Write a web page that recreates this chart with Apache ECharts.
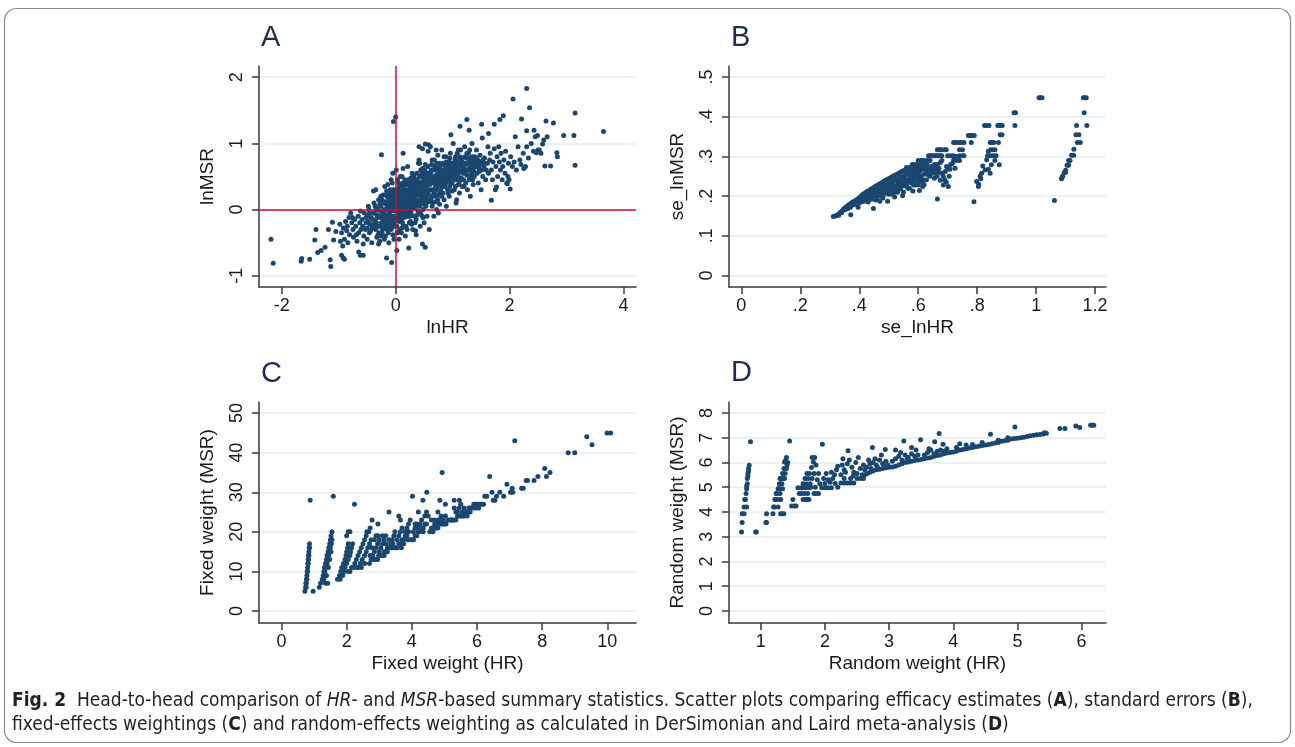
<!DOCTYPE html>
<html>
<head>
<meta charset="utf-8">
<script src="https://cdn.jsdelivr.net/npm/echarts@6/dist/echarts.min.js"></script>
<style>
html, body { margin: 0; padding: 0; background: #fff; }
#charts { width: 1295px; height: 747px; }
</style>
</head>
<body>
<div id="charts"></div>
<script>
// tick labels of each panel
var ticksAx = [-2, 0, 2, 4];
var ticksAy = [-1, 0, 1, 2];
var ticksBx = [0, 0.2, 0.4, 0.6, 0.8, 1, 1.2];
var ticksBy = [0, 0.1, 0.2, 0.3, 0.4, 0.5];
var ticksCx = [0, 2, 4, 6, 8, 10];
var ticksCy = [0, 10, 20, 30, 40, 50];
var ticksDx = [1, 2, 3, 4, 5, 6];
var ticksDy = [0, 1, 2, 3, 4, 5, 6, 7, 8];

// reference lines in panel A (lnHR = 0, lnMSR = 0)
var refLinesA = [0, 0];

// A: lnHR vs lnMSR
var pointsA = [
  [-2.19,-0.45],[-2.15,-0.81],[-1.66,-0.78],[-1.65,-0.74],[-1.51,-0.75],[-1.4,-0.3],[-1.42,-0.46],[-1.37,-0.65],
  [-1.31,-0.62],[-1.24,-0.57],[-1.18,-0.3],[-1.15,-0.76],[-1.14,-0.86],[-1.11,-0.19],[-1.09,-0.46],[-1.05,-0.33],
  [-0.95,-0.69],[-0.92,-0.73],[-0.9,-0.75],[-0.65,-0.64],[-0.62,-0.69],[-0.57,-0.69],[-0.25,0.83],[-0.16,-0.73],
  [-0.07,-0.8],[-0.04,1.33],[0.0,1.4],[0.02,-0.62],[0.23,-0.58],[0.47,-0.52],[0.52,-0.57],[0.13,0.85],
  [0.41,0.95],[0.52,0.99],[0.58,0.98],[0.97,1.13],[1.13,1.26],[1.25,1.36],[1.29,1.2],[1.51,1.29],
  [1.63,1.15],[1.73,1.29],[1.83,1.36],[1.89,1.42],[2.06,1.67],[2.3,1.83],[2.35,1.54],[2.21,1.37],
  [2.3,1.19],[2.43,1.2],[2.64,1.34],[2.77,1.31],[2.49,1.12],[2.66,1.1],[2.95,1.12],[3.13,1.12],
  [3.15,1.46],[3.65,1.18],[3.15,0.67],[2.62,0.66],[2.72,0.66],[2.83,0.86],[2.84,0.8],[2.58,0.99],
  [2.47,0.86],[2.52,0.9],[1.68,0.14],[2.01,0.31],[1.96,0.39],[1.77,0.34],[1.99,0.45],[2.25,0.62],
  [-0.98,-0.22],[-0.95,-0.35],[-0.92,-0.28],[-0.9,-0.45],[-0.88,-0.18],[-0.86,-0.32],[-0.84,-0.5],[-0.82,-0.12],
  [-0.97,-0.48],[-0.93,-0.55],[-0.85,-0.25],[-0.81,-0.38],
  [-0.79,-0.05],[-0.77,-0.2],[-0.75,-0.3],[-0.74,-0.42],[-0.72,-0.15],[-0.7,-0.25],[-0.68,-0.48],[-0.66,-0.1],
  [-0.65,-0.35],[-0.63,-0.2],[-0.62,-0.02],[-0.61,-0.3],[-0.76,-0.12],[-0.69,-0.38],
  [-0.59,-0.15],[-0.58,-0.25],[-0.56,-0.4],[-0.55,-0.05],[-0.53,-0.3],[-0.52,-0.2],[-0.5,-0.45],[-0.49,-0.1],
  [-0.47,0.0],[-0.46,-0.35],[-0.45,-0.22],[-0.43,-0.12],[-0.42,-0.5],[-0.41,-0.28],[-0.57,-0.52],[-0.48,0.05],
  [-0.39,0.28],[-0.38,0.1],[-0.37,-0.05],[-0.36,-0.18],[-0.35,-0.3],[-0.34,0.02],[-0.33,-0.42],[-0.32,-0.12],
  [-0.31,-0.25],[-0.3,0.15],[-0.29,-0.35],[-0.28,-0.48],[-0.27,-0.02],[-0.26,0.05],[-0.25,-0.2],[-0.24,-0.1],
  [-0.23,-0.3],[-0.22,0.22],[-0.21,-0.05],[-0.35,0.3],[-0.3,-0.52],[-0.26,-0.4],[-0.38,-0.22],[-0.33,-0.08],
  [-0.19,0.35],[-0.18,0.12],[-0.17,0.0],[-0.16,-0.12],[-0.15,-0.22],[-0.14,0.05],[-0.13,-0.35],[-0.12,0.25],
  [-0.11,-0.05],[-0.1,-0.28],[-0.09,0.15],[-0.08,0.08],[-0.07,-0.18],[-0.06,0.02],[-0.05,0.55],[-0.04,-0.1],
  [-0.03,-0.45],[-0.02,0.3],[-0.01,0.1],[-0.18,-0.4],[-0.12,-0.5],[-0.08,0.45],[-0.15,0.2],[-0.05,-0.38],
  [-0.02,0.18],[-0.1,0.02],[-0.14,-0.08],[-0.06,-0.25],[-0.17,0.08],[-0.03,-0.02],
  [0.01,0.6],[0.02,-0.02],[0.03,0.2],[0.04,-0.15],[0.05,0.4],[0.06,0.08],[0.07,-0.3],[0.08,0.28],
  [0.09,-0.08],[0.1,0.12],[0.11,0.5],[0.12,-0.2],[0.13,0.02],[0.14,0.35],[0.15,-0.12],[0.16,0.18],
  [0.17,-0.4],[0.18,0.05],[0.19,0.25],[0.03,0.45],[0.06,-0.45],[0.09,0.15],[0.12,-0.05],[0.15,0.3],
  [0.18,-0.25],[0.04,0.1],[0.1,-0.35],[0.14,0.08],[0.2,0.42],[0.05,0.25],[0.02,0.05],[0.08,-0.12],
  [0.16,-0.05],[0.07,0.02],[0.11,0.22],[0.19,0.1],
  [0.21,0.65],[0.22,0.1],[0.23,-0.05],[0.24,0.3],[0.25,0.45],[0.26,-0.18],[0.27,0.2],[0.28,0.02],
  [0.29,0.55],[0.3,-0.3],[0.31,0.15],[0.32,0.35],[0.33,-0.1],[0.34,0.25],[0.35,0.05],[0.36,-0.38],
  [0.37,0.4],[0.38,0.12],[0.39,-0.02],[0.22,0.38],[0.25,0.18],[0.28,-0.22],[0.31,0.48],[0.34,0.08],
  [0.37,0.22],[0.4,0.7],[0.26,0.05],[0.33,0.3],[0.36,-0.15],[0.23,0.25],[0.3,0.1],[0.38,0.32],
  [0.41,0.75],[0.42,0.3],[0.43,0.1],[0.44,-0.05],[0.45,0.5],[0.46,0.2],[0.47,0.62],[0.48,0.0],
  [0.49,0.35],[0.5,-0.2],[0.51,0.15],[0.52,0.42],[0.53,0.05],[0.54,0.55],[0.55,-0.1],[0.56,0.28],
  [0.57,0.88],[0.58,0.12],[0.59,-0.3],[0.44,0.4],[0.48,0.25],[0.52,0.68],[0.56,0.38],[0.43,-0.25],
  [0.5,0.08],[0.55,0.22],[0.47,0.92],[0.46,0.32],[0.53,0.18],[0.58,0.45],
  [0.61,0.95],[0.62,0.45],[0.63,0.2],[0.64,0.05],[0.65,0.6],[0.66,0.3],[0.67,-0.1],[0.68,0.75],
  [0.69,0.4],[0.7,0.12],[0.71,0.52],[0.72,0.0],[0.73,0.35],[0.74,0.82],[0.75,0.22],[0.76,0.58],
  [0.77,0.08],[0.78,0.45],[0.79,0.3],[0.63,0.68],[0.67,0.25],[0.71,0.9],[0.75,-0.05],[0.62,0.15],
  [0.66,0.48],[0.73,0.62],[0.77,0.38],
  [0.81,0.9],[0.82,0.5],[0.83,0.25],[0.84,0.7],[0.85,0.15],[0.86,0.6],[0.87,0.38],[0.88,0.8],
  [0.89,0.05],[0.9,0.55],[0.91,0.3],[0.92,0.72],[0.93,0.45],[0.94,0.2],[0.95,0.62],[0.96,0.85],
  [0.97,0.4],[0.98,0.52],[0.99,0.28],[0.85,0.42],[0.9,0.65],[0.95,0.35],[0.83,0.58],[0.88,0.48],
  [1.01,1.0],[1.02,0.55],[1.03,0.3],[1.04,0.75],[1.05,0.45],[1.06,0.65],[1.07,0.15],[1.08,0.85],
  [1.09,0.5],[1.1,0.38],[1.11,0.7],[1.12,0.25],[1.13,0.6],[1.14,0.9],[1.15,0.48],[1.16,0.78],
  [1.17,0.35],[1.18,0.62],[1.19,0.55],[1.06,0.1],[1.12,0.42],[1.04,0.62],[1.15,0.68],
  [1.21,0.95],[1.22,0.6],[1.23,0.4],[1.24,0.78],[1.25,0.52],[1.26,0.3],[1.27,0.7],[1.28,0.85],
  [1.29,0.45],[1.3,0.62],[1.31,0.2],[1.32,0.75],[1.33,0.55],[1.34,1.0],[1.35,0.65],[1.36,0.38],
  [1.37,0.72],[1.38,0.5],[1.39,0.8],
  [1.41,0.68],[1.42,0.9],[1.43,0.55],[1.44,0.75],[1.45,0.4],[1.46,0.62],[1.48,0.82],[1.5,0.3],
  [1.51,0.7],[1.52,1.08],[1.53,0.5],[1.55,0.65],[1.56,0.78],[1.58,0.45],[1.59,0.6],[1.47,0.72],
  [1.61,0.7],[1.62,0.95],[1.63,0.55],[1.65,0.75],[1.66,0.85],[1.68,0.6],[1.7,0.45],[1.71,0.72],
  [1.73,0.92],[1.75,0.3],[1.76,0.65],[1.78,0.8],[1.79,0.5],
  [1.81,0.95],[1.82,0.72],[1.84,0.6],[1.85,0.85],[1.87,0.45],[1.88,0.65],[1.9,0.75],[1.92,0.55],
  [1.93,0.88],[1.95,0.4],[1.97,0.5],[1.98,0.7],
  [2.02,0.8],[2.05,0.65],[2.08,0.72],[2.1,1.1],[2.12,0.6],[2.15,0.95],[2.18,0.75],[2.2,0.68],
  [2.24,0.85],[2.28,0.65],[2.3,0.95],[2.33,0.78],[2.38,1.0],[2.42,0.88],[2.45,1.1],[2.5,0.9],
  [2.55,0.85],[2.6,1.05],
  [-0.52,-0.12],[-0.5,-0.28],[-0.48,-0.18],[-0.46,-0.05],[-0.44,-0.32],[-0.4,-0.15],[-0.39,-0.05],[-0.37,-0.28],
  [-0.36,0.05],[-0.34,-0.2],[-0.32,0.0],[-0.31,-0.38],[-0.29,-0.1],[-0.27,-0.25],[-0.25,0.1],[-0.24,-0.35],
  [-0.22,-0.15],[-0.2,0.0],[-0.19,-0.25],[-0.18,-0.08],[-0.16,0.1],[-0.15,-0.3],[-0.13,0.0],[-0.12,-0.15],
  [-0.11,0.12],[-0.1,-0.1],[-0.09,-0.2],[-0.08,-0.02],[-0.07,0.2],[-0.06,-0.12],[-0.05,0.05],[-0.04,0.25],
  [-0.03,-0.25],[-0.02,0.0],[-0.01,-0.15],[-0.2,-0.45],[-0.1,0.3],[-0.14,0.38],[-0.26,0.2],[-0.06,0.4],
  [0.01,0.0],[0.02,0.15],[0.03,-0.1],[0.04,0.32],[0.05,-0.05],[0.06,0.2],[0.07,0.1],[0.08,0.0],
  [0.09,0.38],[0.1,-0.15],[0.11,0.05],[0.12,0.28],[0.13,-0.25],[0.14,0.15],[0.15,0.0],[0.16,0.45],
  [0.17,0.1],[0.18,0.2],[0.19,-0.1],[0.2,0.05],[0.21,0.3],[0.22,-0.1],[0.23,0.15],[0.24,0.0],
  [0.25,0.35],[0.26,0.25],[0.27,-0.05],[0.28,0.12],[0.29,0.3],[0.3,0.2],[0.31,0.02],[0.32,0.5],
  [0.33,0.15],[0.34,-0.2],[0.35,0.3],[0.36,0.1],[0.37,0.55],[0.38,-0.08],[0.39,0.25],[0.4,0.15],
  [0.41,0.4],[0.42,0.05],[0.43,0.25],[0.44,0.6],[0.45,0.1],[0.46,0.42],[0.47,0.18],[0.48,-0.12],
  [0.49,0.5],[0.5,0.3],[0.03,-0.35],[0.08,0.5],[0.13,0.62],[0.2,-0.3],[0.27,0.48],[0.35,-0.32],
  [0.42,0.7],[0.47,-0.1],[0.11,-0.28],[0.24,-0.2],
  [0.51,0.6],[0.52,0.2],[0.53,0.35],[0.54,0.1],[0.55,0.45],[0.56,0.65],[0.57,0.25],[0.58,0.55],
  [0.59,0.15],[0.6,0.38],[0.61,0.55],[0.62,0.3],[0.63,0.5],[0.64,0.75],[0.65,0.1],[0.66,0.6],
  [0.67,0.45],[0.68,0.25],[0.69,0.65],[0.7,0.35],[0.71,0.2],[0.72,0.7],[0.73,0.48],[0.74,0.15],
  [0.75,0.55],[0.76,0.4],[0.77,0.7],[0.78,0.25],[0.79,0.6],[0.8,0.45],[0.81,0.2],[0.82,0.68],
  [0.83,0.4],[0.84,0.55],[0.85,0.8],[0.86,0.35],[0.87,0.62],[0.88,0.52],[0.89,0.72],[0.9,0.42],
  [0.91,0.58],[0.92,0.25],[0.93,0.68],[0.94,0.5],[0.95,0.78],[0.96,0.45],[0.97,0.6],[0.98,0.7],
  [0.99,0.4],[1.0,0.58],
  [1.01,0.7],[1.03,0.5],[1.05,0.8],[1.07,0.6],[1.09,0.7],[1.11,0.45],[1.13,0.8],[1.15,0.58],
  [1.17,0.72],[1.19,0.45],[1.21,0.7],[1.23,0.55],[1.25,0.85],[1.27,0.6],[1.29,0.75],[1.31,0.5],
  [1.33,0.68],[1.35,0.8],[1.37,0.58],[1.39,0.65],[1.41,0.78],[1.43,0.65],[1.45,0.7],[1.47,0.58],
  [1.49,0.68],[1.51,0.6],[1.53,0.75],[1.57,0.7],[1.05,0.35],[1.2,0.35],[1.35,0.45],[1.1,0.9],[1.3,0.9],
  [-0.28,0.08],[-0.26,-0.12],[-0.24,0.15],[-0.23,-0.05],[-0.21,0.1],[-0.2,-0.18],[-0.18,0.22],[-0.17,-0.15],
  [-0.16,0.28],[-0.14,-0.2],[-0.13,0.18],[-0.11,-0.22],[-0.1,0.2],[-0.09,0.05],[-0.08,-0.3],[-0.07,0.12],
  [-0.06,0.3],[-0.05,-0.2],[-0.04,0.15],[-0.03,0.08],[-0.02,-0.18],[-0.01,0.22],
  [0.01,0.3],[0.02,-0.25],[0.03,0.05],[0.04,0.2],[0.05,0.12],[0.06,-0.18],[0.07,0.35],[0.08,0.15],
  [0.09,0.05],[0.1,0.28],[0.11,-0.1],[0.12,0.15],[0.13,0.4],[0.14,-0.1],[0.15,0.1],[0.16,0.3],
  [0.17,0.2],[0.18,0.38],[0.19,0.0],[0.2,0.22],[0.21,0.12],[0.22,0.45],[0.23,0.05],[0.24,0.18],
  [0.25,-0.1],[0.26,0.38],[0.27,0.1],[0.28,0.3],[0.29,0.15],[0.3,0.4],[0.31,0.25],[0.32,0.05],
  [0.33,0.42],[0.34,0.18],[0.35,0.45],[0.36,0.22],[0.37,0.05],[0.38,0.45],[0.39,0.12],[0.4,0.35],
  [0.41,0.22],[0.42,0.5],[0.43,0.38],[0.44,0.15],[0.45,0.3],[0.46,0.55],[0.47,0.4],[0.48,0.12],
  [0.49,0.22],[0.5,0.45],
  [0.52,0.3],[0.54,0.4],[0.56,0.5],[0.58,0.3],[0.6,0.5],[0.62,0.6],[0.64,0.4],[0.66,0.2],
  [0.68,0.5],[0.7,0.6],[0.72,0.42],[0.74,0.3],[0.76,0.5],[0.78,0.65],[0.8,0.55],[0.82,0.35],
  [0.84,0.48],[0.86,0.7],[0.88,0.6],[0.9,0.5],[0.92,0.6],[0.94,0.72],[0.96,0.55],[0.98,0.62],
  [1.0,0.48],[1.02,0.68],[1.04,0.55],[1.06,0.75],[1.08,0.62],[1.1,0.55],[1.12,0.68],[1.14,0.75],
  [1.16,0.62],[1.18,0.7],[1.2,0.62],[1.22,0.8],[1.24,0.68],[1.26,0.6],[1.28,0.72],[1.3,0.78],
  [1.32,0.65],[1.34,0.72],[1.36,0.6],[1.38,0.75],[1.4,0.7]
];

// B: se_lnHR vs se_lnMSR
var pointsB = [
  [0.312,0.149],[0.318,0.15],[0.323,0.151],[0.33,0.155],[0.335,0.158],[0.34,0.162],[0.345,0.166],[0.35,0.17],
  [0.355,0.172],[0.36,0.176],[0.365,0.178],[0.37,0.181],[0.375,0.184],[0.38,0.186],[0.385,0.188],[0.39,0.19],
  [0.395,0.193],[0.4,0.196],[0.405,0.2],[0.41,0.203],[0.415,0.206],[0.42,0.208],[0.425,0.211],[0.43,0.213],
  [0.435,0.215],[0.44,0.218],[0.445,0.22],[0.45,0.222],[0.455,0.225],[0.46,0.227],[0.465,0.229],[0.47,0.231],
  [0.475,0.233],[0.48,0.235],[0.485,0.238],[0.49,0.24],[0.495,0.242],[0.5,0.244],[0.505,0.246],[0.51,0.248],
  [0.515,0.25],[0.52,0.252],[0.525,0.254],[0.53,0.256],[0.535,0.258],[0.54,0.26],[0.545,0.262],[0.55,0.264],
  [0.555,0.266],[0.56,0.268],
  [0.36,0.17],[0.37,0.175],[0.38,0.18],[0.39,0.184],[0.4,0.188],[0.41,0.193],[0.42,0.198],[0.43,0.202],
  [0.44,0.206],[0.45,0.21],[0.46,0.214],[0.47,0.218],[0.48,0.222],[0.49,0.226],[0.5,0.23],[0.51,0.234],
  [0.52,0.238],[0.53,0.242],[0.54,0.246],[0.55,0.25],[0.56,0.254],[0.57,0.258],
  [0.42,0.19],[0.43,0.194],[0.44,0.197],[0.45,0.2],[0.46,0.204],[0.47,0.207],[0.48,0.21],[0.49,0.214],
  [0.5,0.218],[0.51,0.221],[0.52,0.225],[0.53,0.228],[0.54,0.232],[0.55,0.236],[0.56,0.24],[0.57,0.243],
  [0.58,0.247],[0.59,0.25],
  [0.46,0.195],[0.48,0.2],[0.5,0.205],[0.52,0.21],[0.54,0.218],[0.56,0.225],[0.58,0.232],[0.6,0.238],
  [0.55,0.21],[0.57,0.22],[0.59,0.228],[0.61,0.235],
  [0.371,0.153],[0.396,0.172],[0.448,0.169],[0.47,0.187],[0.496,0.187],[0.547,0.201],[0.582,0.213],[0.604,0.214],
  [0.665,0.193],[0.43,0.185],[0.455,0.19],[0.52,0.198],
  [0.56,0.272],[0.57,0.272],[0.575,0.272],[0.58,0.272],[0.59,0.272],[0.6,0.272],[0.61,0.272],[0.62,0.272],
  [0.58,0.28],[0.59,0.28],[0.6,0.28],[0.61,0.28],[0.62,0.28],[0.63,0.28],
  [0.6,0.29],[0.61,0.29],[0.615,0.29],[0.62,0.29],[0.63,0.29],[0.64,0.29],[0.68,0.29],[0.72,0.29],
  [0.73,0.29],[0.74,0.29],
  [0.635,0.302],[0.64,0.302],[0.645,0.302],[0.65,0.302],[0.655,0.302],[0.66,0.302],[0.665,0.302],[0.67,0.302],
  [0.675,0.302],[0.68,0.302],[0.7,0.302],[0.71,0.302],[0.72,0.302],[0.74,0.302],[0.75,0.302],[0.755,0.302],
  [0.665,0.317],[0.67,0.317],[0.675,0.317],[0.68,0.317],[0.69,0.317],[0.695,0.317],[0.74,0.317],[0.75,0.317],
  [0.72,0.335],[0.725,0.335],[0.73,0.335],[0.74,0.335],[0.745,0.335],[0.755,0.335],[0.78,0.335],
  [0.77,0.353],[0.775,0.353],[0.78,0.353],[0.785,0.353],[0.79,0.353],
  [0.825,0.378],[0.83,0.378],[0.84,0.378],[0.87,0.378],[0.875,0.378],[0.88,0.378],[0.885,0.378],[0.928,0.378],
  [0.925,0.41],[0.93,0.41],
  [1.01,0.448],[1.015,0.448],[1.02,0.448],[1.16,0.448],[1.165,0.448],[1.17,0.448],
  [0.6,0.255],[0.605,0.262],[0.61,0.245],[0.615,0.224],[0.62,0.229],[0.625,0.258],[0.628,0.241],[0.63,0.265],
  [0.634,0.254],[0.64,0.27],[0.645,0.26],[0.651,0.258],[0.655,0.245],[0.66,0.27],[0.664,0.25],[0.67,0.26],
  [0.675,0.24],[0.68,0.258],[0.685,0.25],[0.69,0.241],[0.692,0.262],[0.696,0.275],[0.702,0.224],[0.705,0.25],
  [0.708,0.268],[0.71,0.28],[0.716,0.282],[0.721,0.292],[0.725,0.27],[0.73,0.3],[0.736,0.292],[0.685,0.228],
  [0.7,0.27],[0.695,0.235],[0.58,0.255],[0.59,0.262],[0.6,0.268],[0.57,0.265],[0.585,0.24],[0.595,0.245],
  [0.798,0.237],[0.804,0.224],[0.81,0.25],[0.815,0.258],[0.819,0.276],[0.827,0.266],[0.832,0.292],[0.835,0.302],
  [0.842,0.302],[0.85,0.302],[0.857,0.302],[0.864,0.302],[0.838,0.313],[0.844,0.335],[0.85,0.335],[0.856,0.335],
  [0.846,0.317],[0.853,0.317],[0.86,0.317],[0.872,0.335],[0.878,0.355],[0.884,0.355],[0.875,0.279],[0.848,0.279],
  [0.844,0.258],[0.838,0.268],[0.86,0.29],[0.789,0.186],[0.805,0.23],[0.812,0.244],
  [1.086,0.244],[1.09,0.25],[1.095,0.259],[1.1,0.265],[1.105,0.278],[1.11,0.29],[1.115,0.29],[1.12,0.303],
  [1.127,0.303],[1.128,0.318],[1.135,0.355],[1.14,0.335],[1.145,0.355],[1.15,0.335],[1.137,0.378],[1.163,0.41],
  [1.172,0.378],[1.062,0.189],[1.11,0.278],[1.1,0.26],[1.088,0.248],
  [0.38,0.178],[0.39,0.18],[0.4,0.183],[0.41,0.186],[0.42,0.188],[0.43,0.19],[0.44,0.192],[0.45,0.195],
  [0.46,0.199],[0.47,0.201],[0.48,0.205],[0.49,0.207],[0.5,0.21],[0.51,0.212],[0.52,0.216],[0.53,0.218],
  [0.54,0.222],[0.55,0.226],[0.56,0.23],[0.57,0.235],[0.58,0.238],[0.59,0.24],[0.6,0.245],[0.61,0.25],
  [0.62,0.255],[0.63,0.262],[0.405,0.19],[0.415,0.195],[0.425,0.2],[0.435,0.205],[0.445,0.208],[0.455,0.213],
  [0.465,0.216],[0.475,0.22],[0.485,0.224],[0.495,0.228],[0.505,0.232],[0.515,0.236],[0.525,0.24],[0.535,0.244],
  [0.545,0.248],[0.555,0.252],[0.565,0.256],[0.575,0.26],[0.585,0.264],[0.595,0.268],[0.605,0.27],[0.615,0.268],
  [0.625,0.272],[0.455,0.205],[0.475,0.212],[0.495,0.22],[0.515,0.226],[0.535,0.236],[0.555,0.242],[0.575,0.25],
  [0.595,0.258],[0.48,0.195],[0.51,0.205],[0.53,0.21],[0.565,0.22],[0.585,0.228],[0.6,0.228],[0.62,0.24],
  [0.645,0.275],[0.655,0.28],[0.665,0.28],[0.675,0.285],[0.65,0.268],[0.67,0.27],[0.64,0.25],[0.66,0.26],
  [0.34,0.158],[0.35,0.165],[0.36,0.168],[0.37,0.172],[0.33,0.152]
];

// C: fixed weights
var pointsC = [
  [0.72,5],[0.74,6],[0.75,7],[0.76,7],[0.77,8],[0.78,9],[0.79,10],[0.8,11],[0.81,12],[0.82,13],[0.83,14],
  [0.84,15],[0.85,16],[0.86,17],[0.78,8],[0.8,10],[0.82,12],[0.84,14],[0.86,16],[0.83,13],[0.76,6],[0.88,28],[0.97,5],
  [1.16,6],[1.2,7],[1.25,8],[1.28,9],[1.3,10],[1.32,11],[1.35,12],[1.38,13],[1.4,14],[1.43,15],[1.45,16],
  [1.48,17],[1.5,18],[1.52,19],[1.55,20],[1.3,8],[1.33,10],[1.36,11],[1.4,12],[1.42,13],[1.45,14],[1.47,15],
  [1.5,16],[1.53,17],[1.55,18],[1.35,7],[1.42,7],[1.38,9],[1.44,11],[1.48,13],[1.52,15],[1.59,29],
  [1.72,8],[1.78,9],[1.82,10],[1.85,11],[1.9,12],[1.95,13],[1.98,14],[2.0,15],[2.03,16],[2.05,17],[2.0,19],
  [2.05,20],[2.1,20],[1.8,8],[1.88,9],[1.92,10],[1.95,11],[2.0,12],[2.05,13],[2.1,14],[2.15,16],[2.18,17],[2.12,15],
  [2.05,10],[2.1,10],[2.15,11],[2.2,11],[2.25,12],[2.3,13],[2.35,14],[2.4,15],[2.45,16],[2.5,17],[2.55,18],
  [2.6,19],[2.62,20],[2.68,20],[2.72,21],[2.24,27],[2.35,11],[2.42,12],[2.48,13],[2.55,14],[2.6,15],[2.65,16],
  [2.7,17],[2.75,18],[2.78,23],[2.3,11],[2.45,11],[2.55,12],
  [2.7,12],[2.75,13],[2.8,13],[2.85,13],[2.9,13],[2.95,13],[2.8,14],[2.85,15],[2.9,16],[2.95,17],[3.0,18],
  [2.72,14],[2.78,16],[2.85,18],[2.9,19],[2.96,19],[2.98,14],[3.0,15],[2.96,22],
  [3.05,14],[3.1,14],[3.15,14],[3.2,15],[3.25,15],[3.05,16],[3.1,17],[3.15,18],[3.2,19],[3.1,19],[3.25,16],
  [3.3,16],[3.35,17],[3.4,18],[3.45,19],[3.3,18],[3.38,16],[3.42,17],[3.48,20],[3.3,25],[3.2,17],[3.15,15],[3.45,16],
  [3.5,16],[3.55,16],[3.6,17],[3.65,17],[3.7,18],[3.75,18],[3.8,19],[3.85,19],[3.9,20],[3.55,18],[3.6,19],
  [3.65,20],[3.7,21],[3.75,17],[3.8,20],[3.85,21],[3.9,22],[3.95,18],[3.6,24],[3.65,23],[3.95,23],[3.68,16],[3.88,18],
  [4.0,18],[4.05,18],[4.1,19],[4.15,19],[4.2,20],[4.25,20],[4.3,21],[4.35,21],[4.4,22],[4.45,22],[4.05,20],
  [4.1,21],[4.15,22],[4.2,21],[4.25,22],[4.3,23],[4.35,20],[4.4,24],[4.45,25],[4.02,29],[4.34,28],[4.46,30],
  [4.5,24],[4.1,22],[4.2,25],
  [4.55,20],[4.6,21],[4.65,21],[4.7,22],[4.75,22],[4.8,23],[4.85,23],[4.9,22],[4.95,22],[4.6,23],[4.7,23],
  [4.8,21],[4.9,24],[4.65,20],[4.75,21],[4.85,22],[4.95,23],[4.93,35],[4.86,28],[4.8,25],
  [5.0,22],[5.05,22],[5.1,23],[5.15,23],[5.2,23],[5.25,23],[5.3,23],[5.35,23],[5.4,24],[5.45,24],[5.03,24],
  [5.22,23],[5.3,26],[5.35,25],[5.4,25],[5.45,26],[5.5,27],[5.03,27],[5.3,28],[5.46,28],[5.5,24],
  [5.55,24],[5.6,24],[5.65,25],[5.7,25],[5.75,26],[5.8,26],[5.85,26],[5.9,27],[5.95,27],[5.6,26],[5.7,24],
  [5.79,25],[5.92,26],[5.98,27],[5.55,25],
  [6.0,26],[6.05,27],[6.1,27],[6.15,27],[6.24,29],[6.3,29],[6.39,34],[6.46,30],[6.5,28],[6.55,28],[6.6,29],
  [6.7,30],[6.82,29],[6.92,32],[7.03,30],[7.08,31],[7.1,30],[7.16,43],[7.37,31],[7.42,31],[7.51,33],[7.55,33],
  [7.75,33],[7.87,34],[8.08,36],[8.13,34],[8.24,35],[8.8,40],[9.0,40],[9.37,44],[9.53,42],[9.99,45],[10.1,45],
  [6.05,26],[6.2,27]
];

// D: random weights
var pointsD = [
  [0.7,3.19],[0.71,3.57],[0.71,3.93],[0.74,3.93],[0.74,4.2],[0.75,4.5],[0.77,4.74],[0.78,4.94],[0.79,5.14],
  [0.79,5.35],[0.8,5.55],[0.81,5.75],[0.82,5.89],[0.8,5.45],[0.81,5.65],[0.78,5.05],[0.84,6.83],[0.92,3.19],
  [0.93,3.19],[0.76,4.5],[0.78,4.2],
  [1.08,3.57],[1.09,3.57],[1.09,3.93],[1.19,3.93],[1.2,4.2],[1.23,4.5],[1.24,4.74],[1.27,4.94],[1.31,5.14],
  [1.32,5.35],[1.34,5.55],[1.36,5.75],[1.37,6.02],[1.4,6.2],[1.31,3.93],[1.33,3.93],[1.36,3.93],[1.45,6.86],
  [1.21,4.2],[1.22,4.5],[1.25,4.74],[1.28,4.94],[1.3,4.94],[1.33,5.14],[1.35,5.35],[1.29,5.14],[1.26,4.5],
  [1.3,4.74],[1.34,4.94],[1.38,5.55],[1.4,5.75],[1.41,5.9],[1.39,6.1],[1.42,6.0],[1.37,5.35],[1.3,5.35],
  [1.27,4.2],[1.31,4.5],
  [1.48,4.24],[1.5,4.5],[1.52,4.24],[1.55,4.24],[1.58,4.98],[1.63,4.74],[1.63,4.98],[1.66,4.5],[1.7,4.5],
  [1.72,4.5],[1.75,4.5],[1.68,4.74],[1.7,4.98],[1.71,5.14],[1.74,5.35],[1.76,5.55],[1.79,5.79],[1.82,6.02],
  [1.8,6.2],[1.84,6.2],[1.73,4.74],[1.75,4.98],[1.77,5.14],[1.8,5.35],[1.83,5.55],[1.66,5.14],[1.69,5.35],
  [1.72,5.55],[1.78,5.0],[1.96,6.73],[1.6,4.74],[1.65,4.98],
  [1.83,4.74],[1.86,4.74],[1.9,4.74],[1.95,4.98],[2.0,4.98],[2.05,4.98],[2.1,4.98],[1.92,5.14],[1.98,5.35],
  [2.02,5.55],[2.08,5.2],[2.12,5.35],[2.15,5.5],[2.18,5.7],[1.86,5.9],[1.88,5.3],[2.0,5.15],[2.05,5.3],
  [2.1,5.6],[2.2,5.85],[2.16,5.15],[2.2,5.0],[1.85,5.0],[1.9,5.55],
  [2.25,5.17],[2.3,5.17],[2.35,5.17],[2.4,5.17],[2.45,5.17],[2.3,5.35],[2.4,5.35],[2.5,5.35],[2.55,5.35],
  [2.6,5.35],[2.25,5.5],[2.3,5.7],[2.35,5.95],[2.38,6.1],[2.42,5.8],[2.45,5.6],[2.5,5.55],[2.55,5.75],
  [2.6,5.9],[2.36,6.47],[2.28,6.15],[2.32,5.6],[2.48,6.0],[2.52,6.2],[2.58,5.5],[2.27,5.9],[2.44,5.45],
  [2.62,5.5],[2.66,5.55],[2.7,5.6],[2.75,5.65],[2.8,5.7],[2.85,5.72],[2.9,5.75],[2.95,5.78],[2.65,5.8],
  [2.7,5.95],[2.75,6.0],[2.8,5.9],[2.85,6.1],[2.9,5.95],[2.95,6.05],[2.74,6.6],[2.94,6.52],[2.68,6.1],
  [2.78,6.15],[2.88,6.3],[2.98,5.9],[2.62,5.7],[2.72,5.75],[2.82,5.8],[2.92,5.85],
  [3.0,5.8],[3.05,5.82],[3.1,5.85],[3.15,5.9],[3.2,5.95],[3.25,6.0],[3.3,6.02],[3.35,6.05],[3.4,6.08],
  [3.45,6.1],[3.05,6.05],[3.1,6.15],[3.15,6.25],[3.2,6.1],[3.25,6.3],[3.3,6.2],[3.35,6.35],[3.4,6.25],
  [3.45,6.3],[3.23,6.87],[3.49,6.92],[3.1,6.5],[3.35,6.6],[3.28,6.15],[3.18,6.4],[3.42,6.5],
  [3.5,6.12],[3.55,6.15],[3.6,6.18],[3.65,6.2],[3.7,6.25],[3.75,6.28],[3.8,6.3],[3.85,6.35],[3.9,6.38],
  [3.95,6.4],[3.55,6.3],[3.6,6.4],[3.65,6.5],[3.7,6.35],[3.75,6.45],[3.8,6.5],[3.85,6.45],[3.9,6.55],
  [3.78,7.17],[3.71,6.83],[3.84,6.73],[3.62,6.55],
  [4.0,6.42],[4.05,6.45],[4.1,6.5],[4.15,6.52],[4.2,6.55],[4.25,6.58],[4.3,6.6],[4.35,6.63],[4.4,6.65],
  [4.45,6.68],[4.5,6.7],[4.55,6.72],[4.6,6.75],[4.65,6.78],[4.7,6.8],[4.75,6.85],[4.8,6.88],[4.85,6.9],
  [4.9,6.95],[4.95,6.97],[4.05,6.6],[4.1,6.75],[4.2,6.7],[4.3,6.72],[4.45,6.8],[4.58,7.14],[4.7,6.9],
  [4.85,7.0],[4.96,7.43],
  [5.0,6.98],[5.05,7.0],[5.1,7.02],[5.15,7.05],[5.2,7.08],[5.25,7.1],[5.3,7.12],[5.35,7.13],[5.4,7.15],
  [5.45,7.18],[5.42,7.2],[5.66,7.37],[5.74,7.37],[5.91,7.47],[5.97,7.41],[6.14,7.5],[6.17,7.5],[6.19,7.5]
];

var dotColor = '#1a476f';
var axisColor = '#3a3a3a';
var gridColor = '#e6eef1';
var font = '"Liberation Sans", Arial, sans-serif';
var captionFont = '"Liberation Sans Narrow", "DejaVu Sans Condensed", sans-serif';

function shortNum(v) {
  var s = String(+v.toFixed(2));
  return s.replace(/^0\./, '.');
}

function xAxisFor(gi, min, max, ticks, name, fmt) {
  return {
    type: 'value', gridIndex: gi, min: min, max: max,
    name: name, nameLocation: 'middle', nameGap: 31,
    nameTextStyle: { color: '#1a1a1a', fontSize: 19, fontFamily: font },
    axisLine: { show: true, onZero: false, lineStyle: { color: axisColor, width: 1.5 } },
    axisTick: { show: true, length: 7, customValues: ticks, lineStyle: { color: axisColor, width: 1.5 } },
    axisLabel: { customValues: ticks, formatter: fmt, margin: 10, color: '#1a1a1a', fontSize: 18, fontFamily: font },
    splitLine: { show: false }
  };
}

function yAxisFor(gi, min, max, ticks, name, fmt) {
  return {
    type: 'value', gridIndex: gi, min: min, max: max,
    name: name, nameLocation: 'middle', nameGap: 42,
    nameTextStyle: { color: '#1a1a1a', fontSize: 19, fontFamily: font },
    axisLine: { show: true, onZero: false, lineStyle: { color: axisColor, width: 1.5 } },
    axisTick: { show: true, length: 7, customValues: ticks, lineStyle: { color: axisColor, width: 1.5 } },
    axisLabel: { customValues: ticks, formatter: fmt, rotate: 90, margin: 13, color: '#1a1a1a', fontSize: 18, fontFamily: font },
    splitLine: { show: true, lineStyle: { color: gridColor, width: 1.5 } }
  };
}

function scatter(gi, data) {
  return {
    type: 'scatter', xAxisIndex: gi, yAxisIndex: gi, data: data, z: 3,
    symbol: 'circle', symbolSize: 5, silent: true,
    itemStyle: { color: dotColor, opacity: 1 }
  };
}

var myChart = echarts.init(document.getElementById('charts'), null, { width: 1295, height: 747 });

// red zero lines go under the dots, so they sit on an empty series with lower z
var zeroLinesA = {
  type: 'scatter', xAxisIndex: 0, yAxisIndex: 0, data: [], z: 1, silent: true,
  markLine: {
    silent: true, symbol: 'none', label: { show: false }, animation: false,
    lineStyle: { color: '#c8102e', width: 1.5, type: 'solid' },
    data: [{ xAxis: refLinesA[0] }, { yAxis: refLinesA[1] }]
  }
};

var option = {
  animation: false,
  backgroundColor: '#ffffff',
  grid: [
    { left: 259, top: 66, width: 377, height: 221, outerBoundsMode: 'none' },
    { left: 729, top: 66, width: 377, height: 221, outerBoundsMode: 'none' },
    { left: 259, top: 402, width: 377, height: 221, outerBoundsMode: 'none' },
    { left: 729, top: 402, width: 377, height: 221, outerBoundsMode: 'none' }
  ],
  xAxis: [
    xAxisFor(0, -2.4, 4.22, ticksAx, 'lnHR'),
    xAxisFor(1, -0.042, 1.237, ticksBx, 'se_lnHR', shortNum),
    xAxisFor(2, -0.69, 10.88, ticksCx, 'Fixed weight (HR)'),
    xAxisFor(3, 0.505, 6.38, ticksDx, 'Random weight (HR)')
  ],
  yAxis: [
    yAxisFor(0, -1.17, 2.17, ticksAy, 'lnMSR'),
    yAxisFor(1, -0.029, 0.528, ticksBy, 'se_lnMSR', shortNum),
    yAxisFor(2, -3.03, 52.8, ticksCy, 'Fixed weight (MSR)'),
    yAxisFor(3, -0.485, 8.44, ticksDy, 'Random weight (MSR)')
  ],
  series: [zeroLinesA, scatter(0, pointsA), scatter(1, pointsB), scatter(2, pointsC), scatter(3, pointsD)],
  graphic: [
    { type: 'rect', silent: true, shape: { x: 4.5, y: 8.5, width: 1286, height: 734, r: 12 },
      style: { fill: 'none', stroke: '#8a8a8a', lineWidth: 1.2 } },
    { type: 'text', x: 261, y: 38, silent: true, style: { text: 'A', fontSize: 29, fontFamily: font, fill: '#1f2d55', textVerticalAlign: 'middle' } },
    { type: 'text', x: 731, y: 38, silent: true, style: { text: 'B', fontSize: 29, fontFamily: font, fill: '#1f2d55', textVerticalAlign: 'middle' } },
    { type: 'text', x: 261, y: 374, silent: true, style: { text: 'C', fontSize: 29, fontFamily: font, fill: '#1f2d55', textVerticalAlign: 'middle' } },
    { type: 'text', x: 731, y: 373, silent: true, style: { text: 'D', fontSize: 29, fontFamily: font, fill: '#1f2d55', textVerticalAlign: 'middle' } },
    { type: 'text', x: 12, y: 701, silent: true, style: {
        text: '{b|Fig. 2}  Head-to-head comparison of {i|HR}- and {i|MSR}-based summary statistics. Scatter plots comparing efficacy estimates ({b|A}), standard errors ({b|B}),',
        fontSize: 19, fontFamily: captionFont, fill: '#231f20', textVerticalAlign: 'middle',
        rich: {
          b: { fontSize: 19, fontWeight: 'bold', fontFamily: captionFont, fill: '#231f20' },
          i: { fontSize: 19, fontStyle: 'italic', fontFamily: captionFont, fill: '#231f20' }
        } } },
    { type: 'text', x: 12, y: 725, silent: true, style: {
        text: 'fixed-effects weightings ({b|C}) and random-effects weighting as calculated in DerSimonian and Laird meta-analysis ({b|D})',
        fontSize: 19, fontFamily: captionFont, fill: '#231f20', textVerticalAlign: 'middle',
        rich: {
          b: { fontSize: 19, fontWeight: 'bold', fontFamily: captionFont, fill: '#231f20' }
        } } }
  ]
};

myChart.setOption(option);
</script>
</body>
</html>
